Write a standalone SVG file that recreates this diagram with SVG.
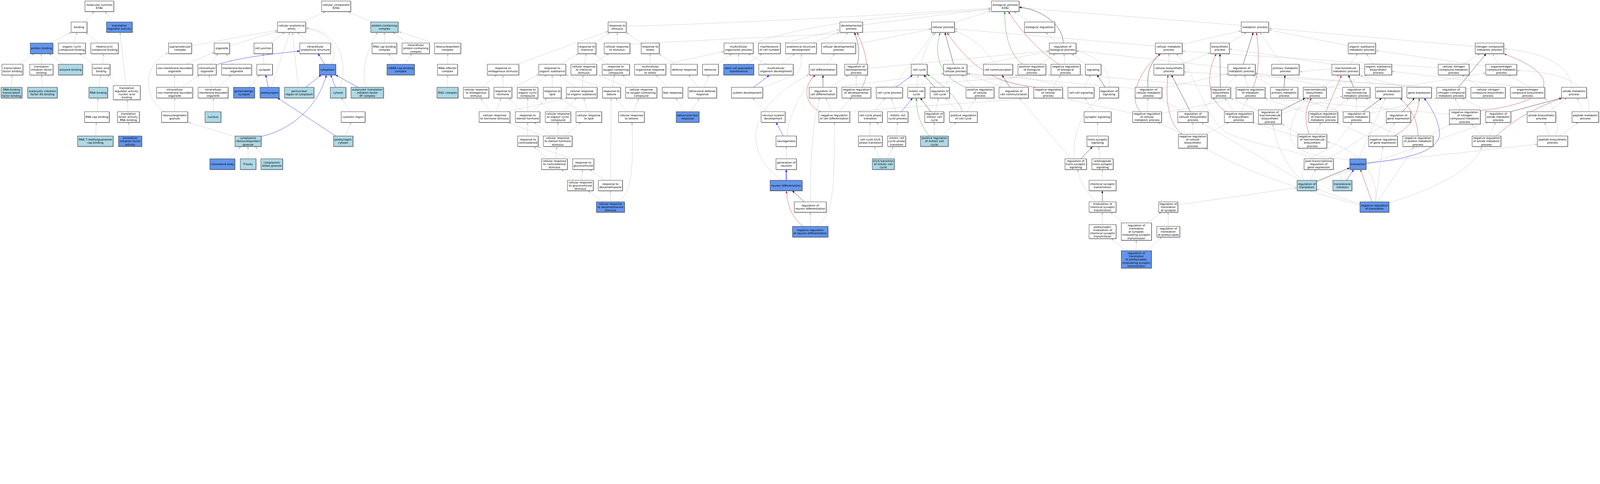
<svg xmlns="http://www.w3.org/2000/svg" width="7359" height="1240" viewBox="0 0 7359 1240" preserveAspectRatio="xMinYMin meet">
<defs>
<filter id="sh" x="-5%" y="-5%" width="115%" height="130%"><feDropShadow dx="1.5" dy="1.5" stdDeviation="0.4" flood-color="#666" flood-opacity="0.7"/></filter>
<marker id="ag" viewBox="0 0 10 8" refX="10" refY="4" markerWidth="11" markerHeight="8.5" markerUnits="userSpaceOnUse" orient="auto"><path d="M0,0L10,4L0,8z" fill="#BEBEBE"/></marker>
<marker id="ak" viewBox="0 0 10 8" refX="10" refY="4" markerWidth="11" markerHeight="8.5" markerUnits="userSpaceOnUse" orient="auto"><path d="M0,0L10,4L0,8z" fill="#000"/></marker>
<marker id="ab" viewBox="0 0 10 8" refX="10" refY="4" markerWidth="11" markerHeight="8.5" markerUnits="userSpaceOnUse" orient="auto"><path d="M0,0L10,4L0,8z" fill="#0000FF"/></marker>
<marker id="ar" viewBox="0 0 10 8" refX="10" refY="4" markerWidth="11" markerHeight="8.5" markerUnits="userSpaceOnUse" orient="auto"><path d="M0,0L10,4L0,8z" fill="#B22222"/></marker>
<marker id="an" viewBox="0 0 10 8" refX="10" refY="4" markerWidth="11" markerHeight="8.5" markerUnits="userSpaceOnUse" orient="auto"><path d="M0,0L10,4L0,8z" fill="#228B22"/></marker>
</defs>
<style>
svg:root{width:100%;height:100%}
text{font-family:"DejaVu Sans","Liberation Sans",sans-serif;font-size:12.7px;text-anchor:middle;fill:#000}
rect{stroke:#000;stroke-width:1.3;filter:url(#sh)}
.w{fill:#fff}.lb{fill:#ADD8E6}.cb{fill:#6495ED}
.g,.k,.b,.r,.n{fill:none;stroke-width:1.2}
.g{stroke:#BEBEBE;marker-end:url(#ag)}
.k{stroke:#000;marker-end:url(#ak)}
.b{stroke:#0000FF;marker-end:url(#ab)}
.r{stroke:#B22222;marker-end:url(#ar)}
.n{stroke:#228B22;marker-end:url(#an)}
.tk{stroke-width:2.4}
</style>
<g id="edges">
<path class="g" d="M387,101L433,54"/><path class="g" d="M526,101L482,54"/><path class="g" d="M233,198L327,149"/><path class="g" d="M340,198L354,149"/><path class="g" d="M452,198L395,149"/><path class="g" d="M91,296L157,247"/><path class="g" d="M190,296L190,247"/><path class="g" d="M291,296L225,247"/><path class="g" d="M431,296L365,247"/><path class="g" d="M471,296L477,247"/><path class="g" d="M54,402L55,345"/><path class="g" d="M194,402L191,345"/><path class="g" d="M456,402L463,345"/><path class="g" d="M546,394L493,345"/><path class="g" d="M579,394L552,149"/><path class="g" d="M447,514L451,451"/><path class="g" d="M589,514L585,459"/><path class="g" d="M440,626L443,563"/><path class="g" d="M595,626L592,563"/>
<path class="g" d="M1394,101L1497,54"/><path class="g" d="M1712,101L1600,54"/><path class="g" d="M881,210C1000,190 1150,160 1276,140"/><path class="g" d="M1056,210C1120,195 1200,165 1276,146"/><path class="g" d="M1244,198L1309,149"/><path class="g" d="M1424,198L1368,149"/><path class="g" d="M1248,402L1333,149"/><path class="g" d="M1372,402L1345,149"/><path class="g" d="M1521,296C1555,260 1540,150 1408,131"/><path class="g" d="M1563,402C1600,300 1570,145 1408,128"/><path class="g" d="M854,296L985,241"/><path class="g" d="M969,296L1003,247"/><path class="g" d="M1072,296L1040,247"/><path class="g" d="M1214,296L1210,247"/><path class="g" d="M803,402L803,345"/><path class="g" d="M838,402L917,345"/><path class="g" d="M973,402L961,345"/><path class="g" d="M1004,402L1064,345"/><path class="g" d="M1144,402L1196,345"/><path class="g" d="M803,514L803,451"/><path class="g" d="M759,514C660,460 650,300 773,243"/><path class="g" d="M981,514L981,451"/><path class="g" d="M1081,629L866,563"/><path class="g" d="M1049,731L1107,676"/><path class="g" d="M1141,731L1141,676"/><path class="g" d="M1226,731L1174,676"/><path class="g" d="M1685,402C1660,330 1680,250 1736,149"/><path class="g" d="M1588,626L1615,563"/><path class="g" d="M1609,514L1570,451"/><path class="g" d="M1768,198L1768,149"/><path class="g" d="M1823,296L1786,247"/><path class="g" d="M1860,296L1895,247"/><path class="g" d="M1875,198L1807,149"/><path class="g" d="M1998,198L1834,146"/><path class="g" d="M2059,296L2059,247"/><path class="g" d="M2059,402L2059,345"/>
<path class="b" d="M994,299Q1100,262 1378,235"/><path class="b" d="M1234,402L1222,345"/><path class="b" d="M1201,628C1330,600 1460,500 1501,346"/><path class="b" d="M1493,296L1463,247"/><path class="b" d="M1406,402L1477,345"/><path class="b" d="M1543,402L1521,345"/><path class="b" d="M1647,402L1544,345"/><path class="b" d="M1544,626L1277,451"/>
<path class="g" d="M2880,121C3300,110 4000,75 4558,37"/><path class="g" d="M2735,198L2804,150"/><path class="g" d="M2839,198L2839,149"/><path class="g" d="M2950,198L2881,150"/><path class="g" d="M2376,296L2797,144"/><path class="g" d="M2897,204C3200,185 3800,160 4284,132"/><path class="g" d="M2578,296L2659,247"/><path class="g" d="M2689,296L2695,247"/><path class="g" d="M2723,296L2800,247"/><path class="g" d="M2798,296L2733,247"/><path class="g" d="M2990,296L2990,247"/><path class="g" d="M3055,296L3330,237"/><path class="g" d="M3109,296L3031,249"/><path class="g" d="M2219,402L2285,345"/><path class="g" d="M2313,402L2313,345"/><path class="g" d="M2354,406L2478,343"/><path class="g" d="M2452,402L2515,345"/><path class="g" d="M2540,402L2540,345"/><path class="g" d="M2646,402L2572,345"/><path class="g" d="M2679,402L2682,345"/><path class="g" d="M2818,402L2826,345"/><path class="g" d="M2770,403L2602,344"/><path class="g" d="M2922,402L2863,345"/><path class="g" d="M2887,402L2752,345"/><path class="g" d="M3070,402L3017,346"/><path class="g" d="M3148,514L3109,452"/><path class="g" d="M3177,514L3216,452"/><path class="g" d="M3212,402L3167,345"/><path class="g" d="M3239,402L3260,345"/><path class="g" d="M3299,296L3366,248"/><path class="g" d="M3397,296L3397,248"/><path class="g" d="M3432,296L3505,248"/><path class="g" d="M3528,296L3441,248"/><path class="g" d="M3598,296L3655,248"/><path class="g" d="M3463,198C3650,140 3850,85 4558,44"/><path class="g" d="M3588,202L3861,137"/><path class="g" d="M3740,198L3861,148"/><path class="g" d="M3870,198L3900,149"/><path class="g" d="M3935,204L4284,134"/><path class="g" d="M3803,296L3839,247"/><path class="g" d="M3505,402L3655,346C3680,330 3686,300 3686,248"/><path class="g" d="M3530,514L3461,452"/><path class="g" d="M3616,731L3616,674"/><path class="g" d="M3596,830C3420,700 3420,500 3720,344"/><path class="g" d="M3619,626C3625,540 3680,430 3745,346"/>
<path class="g" d="M2257,514L2210,452"/><path class="g" d="M2283,514L2304,452"/><path class="g" d="M2334,514L2610,451"/><path class="g" d="M2401,514L2340,452"/><path class="g" d="M2427,514L2427,451"/><path class="g" d="M2452,514L2515,452"/><path class="g" d="M2427,626L2427,563"/><path class="g" d="M2535,514L2464,452"/><path class="g" d="M2590,514L2652,452"/><path class="g" d="M2673,514L2576,452"/><path class="g" d="M2701,514L2685,452"/><path class="g" d="M2885,514L2831,452"/><path class="g" d="M2914,514L2938,452"/><path class="g" d="M2535,626L2456,563"/><path class="g" d="M2566,626L2566,563"/><path class="g" d="M2598,626L2673,563"/><path class="g" d="M2499,626L2340,564"/><path class="g" d="M2521,731L2456,676"/><path class="g" d="M2555,731L2561,676"/><path class="g" d="M2634,734L2476,676"/><path class="g" d="M2640,830L2582,780"/><path class="g" d="M2673,830L2679,780"/><path class="g" d="M2778,830L2713,780"/><path class="g" d="M2808,830L2811,451"/><path class="g" d="M2774,929L2705,879"/><path class="g" d="M2808,929L2808,877"/><path class="g" d="M2837,929C2900,900 2915,800 2907,564"/>
<path class="g" d="M3967,115L4557,40"/><path class="g" d="M4391,103L4557,51"/><path class="g" d="M4739,101L4664,54"/><path class="g" d="M5709,117L4688,36"/><path class="g" d="M4862,198L4810,150"/><path class="g" d="M4237,296C4250,240 4270,190 4304,150"/><path class="g" d="M4447,308L4826,237"/><path class="g" d="M4577,296C4530,220 4470,170 4391,142"/><path class="g" d="M4783,296L4854,248"/><path class="g" d="M4898,296L4894,248"/><path class="g" d="M3990,315L4826,233"/><path class="g" d="M3837,402L4340,338"/><path class="g" d="M3819,402L3902,347"/><path class="g" d="M3938,402L3938,347"/><path class="g" d="M4005,403L4834,345"/><path class="g" d="M4107,402C4170,320 4240,220 4296,151"/><path class="g" d="M4217,402L4223,345"/><path class="g" d="M4340,402L4375,345"/><path class="g" d="M4478,402L4423,345"/><path class="g" d="M4565,403L4684,345"/><path class="g" d="M4609,402L4450,340"/><path class="g" d="M4755,400L4447,337"/><path class="g" d="M4842,402L4878,347"/><path class="g" d="M3826,514L3798,451"/><path class="g" d="M3859,514L3917,451"/><path class="g" d="M3901,514L4763,451"/><path class="g" d="M4022,514L4071,451"/><path class="g" d="M4120,514L4099,451"/><path class="g" d="M4303,514L4316,451"/><path class="g" d="M4407,514L4348,451"/><path class="g" d="M4447,514L4490,451"/><path class="g" d="M4002,626L4002,563"/><path class="g" d="M4096,626L4031,563"/><path class="g" d="M4125,626L4128,563"/><path class="g" d="M4297,626L4297,563"/><path class="g" d="M4328,626L4399,563"/><path class="g" d="M4047,731L4020,676"/><path class="g" d="M4079,731L4108,676"/><path class="g" d="M3727,929C3727,700 3740,560 3770,451"/><path class="g" d="M3727,1042L3727,977"/><path class="g" d="M3759,1042C3830,980 3838,900 3838,563"/>
<path class="g" d="M5437,204L5708,142"/><path class="g" d="M5314,212L4391,133"/><path class="g" d="M5653,198L5732,150"/><path class="g" d="M5648,312L4949,233"/><path class="g" d="M5896,296L5795,150"/><path class="g" d="M5376,296L5376,247"/><path class="g" d="M5431,296L5566,243"/><path class="g" d="M4993,296L4929,248"/><path class="g" d="M4985,402L5016,345"/><path class="g" d="M4915,402L4665,345"/><path class="g" d="M5103,402C5110,320 5050,260 4950,234"/><path class="g" d="M5344,407L5648,340"/><path class="g" d="M5222,408L4450,338"/><path class="g" d="M5637,402L5688,345"/><path class="g" d="M5740,402L5724,345"/><path class="g" d="M5686,407L4969,345"/><path class="g" d="M5858,402L5760,345"/><path class="g" d="M6080,402L6160,345"/><path class="g" d="M6100,408L6290,345"/><path class="g" d="M5032,514L4989,451"/><path class="g" d="M5277,514L5280,451"/><path class="g" d="M5342,522L5692,451"/><path class="g" d="M5210,522L4884,452"/><path class="g" d="M5439,514L5329,451"/><path class="g" d="M5515,514L5588,451"/><path class="g" d="M5677,514L5633,451"/><path class="g" d="M5708,514L5740,451"/><path class="g" d="M5787,510L5661,452"/><path class="g" d="M5894,522L6175,443"/><path class="g" d="M6019,522L5815,452"/><path class="g" d="M6120,514L6205,452"/><path class="g" d="M6180,516L5968,453"/><path class="g" d="M5048,626L5048,563"/><path class="g" d="M5487,618L5487,563"/><path class="g" d="M5546,618L5653,563"/><path class="g" d="M5439,618L5325,563"/><path class="g" d="M5981,619L5896,571"/><path class="g" d="M5969,630L5760,563"/><path class="g" d="M6051,619L6075,564"/><path class="g" d="M4925,731L4688,451"/><path class="g" d="M4941,731C4930,620 4980,500 5060,452"/><path class="g" d="M5060,731L5053,676"/><path class="g" d="M5070,830L5070,780"/><path class="g" d="M5040,929C5000,890 4965,830 4957,781"/><path class="g" d="M6110,731L6385,563"/><path class="g" d="M6025,830L6052,780"/><path class="g" d="M5985,830C5920,760 5870,680 5855,572"/><path class="g" d="M5965,822L5526,565"/><path class="g" d="M5996,831C5960,740 6080,700 6120,680C6160,650 6190,600 6219,565"/><path class="g" d="M6055,838L6845,563"/><path class="g" d="M5417,943L5966,864"/><path class="g" d="M5070,1034L5070,977"/><path class="g" d="M5170,1026L5107,977"/><path class="g" d="M5277,1026L5341,977"/><path class="g" d="M5373,1042L5373,977"/><path class="g" d="M5178,1154L5111,1098"/><path class="g" d="M5226,1154L5226,1106"/><path class="g" d="M5273,1154L5344,1091"/><path class="g" d="M6255,945C6100,900 5800,830 5545,683"/><path class="g" d="M6255,940L6056,870"/><path class="g" d="M6327,930C6340,800 6250,690 6104,653"/><path class="g" d="M6172,831C6150,700 5800,690 5640,610C5540,540 5500,330 5410,248"/><path class="g" d="M6210,736C6050,720 5900,700 5940,580C5955,510 5990,470 6021,452"/><path class="g" d="M6249,731L6372,451"/><path class="g" d="M6283,751L7072,664"/>
<path class="g" d="M6201,210L5837,138"/><path class="g" d="M6785,214L5837,130"/><path class="g" d="M6210,296L6244,248"/><path class="g" d="M6126,316L5977,330"/><path class="g" d="M6317,296L6285,248"/><path class="g" d="M6277,318L5655,226"/><path class="g" d="M6728,296L6807,248"/><path class="g" d="M6615,312L5438,235"/><path class="g" d="M6890,296L6866,248"/><path class="g" d="M6834,304L6329,233"/><path class="g" d="M6175,411L5773,336"/><path class="g" d="M6333,402L6257,345"/><path class="g" d="M6439,402L6834,336"/><path class="g" d="M6471,403L6245,345"/><path class="g" d="M6608,407L5773,340"/><path class="g" d="M6807,402L6724,345"/><path class="g" d="M6765,410L5446,331"/><path class="g" d="M7037,402L6937,345"/><path class="g" d="M7005,402L6401,328"/><path class="g" d="M7230,402C7220,300 7100,240 6918,225"/><path class="g" d="M6238,514L6238,451"/><path class="g" d="M6299,522L6609,451"/><path class="g" d="M6392,514L6281,451"/><path class="g" d="M6720,506L6692,451"/><path class="g" d="M6666,526L5818,452"/><path class="g" d="M6843,514L6724,451"/><path class="g" d="M7123,514L7206,451"/><path class="g" d="M7281,514L7254,451"/><path class="g" d="M7305,514C7330,400 7200,330 6977,325"/><path class="g" d="M6376,626L6415,563"/><path class="g" d="M6301,633L6147,563"/><path class="g" d="M6459,633L6301,563"/><path class="g" d="M6570,626L6673,571"/><path class="g" d="M6850,626L6878,563"/><path class="g" d="M6815,626L6767,571"/><path class="g" d="M7127,626L7104,563"/><path class="g" d="M7175,626L7258,563"/><path class="g" d="M7155,626C7180,560 7150,490 7104,452"/><path class="g" d="M6326,929L6360,674"/><path class="g" d="M6336,929L6503,676"/><path class="g" d="M6388,933C6600,870 6780,780 6815,676"/>
<path class="k" d="M4890,198C4890,120 4800,45 4688,33"/><path class="k" d="M3944,296C3955,240 3950,200 3930,150"/><path class="k" d="M4386,296L4346,150"/><path class="k" d="M3785,402L3785,346"/><path class="k" d="M4300,402L4249,345"/><path class="k" d="M4281,514L4233,451"/><path class="k" d="M4646,402L4609,346"/><path class="k" d="M3699,929L3644,878"/><path class="k" d="M5083,402L5046,345"/><path class="k" d="M4971,731L5024,676"/><path class="k" d="M5070,929L5070,878"/><path class="k" d="M5718,296L5764,150"/><path class="k" d="M5280,402C5275,330 5290,290 5337,248"/><path class="k" d="M5475,514L5388,345"/><path class="k" d="M5613,402L5611,248"/><path class="k" d="M5906,402L5910,346"/><path class="k" d="M5894,508L6003,452"/><path class="k" d="M6055,835L6207,773"/><path class="k" d="M6226,402L6202,346"/><path class="k" d="M6270,514L6355,452"/><path class="k" d="M6451,514L6506,451"/><path class="k" d="M6708,402L6835,248"/><path class="k" d="M6949,514L7182,451"/>
<path class="r" d="M4870,296C4780,235 4700,150 4638,54"/><path class="r" d="M3965,402C4005,327 3985,243 3942,150"/><path class="r" d="M4763,402C4600,385 4480,330 4356,151"/><path class="r" d="M3774,514C3700,480 3690,400 3750,346"/><path class="r" d="M3695,1042C3640,1000 3620,940 3617,879"/><path class="r" d="M5764,402C5795,330 5790,230 5779,150"/><path class="r" d="M5246,514C5190,460 5230,330 5337,248"/><path class="r" d="M5641,514C5560,470 5540,350 5594,248"/><path class="r" d="M5439,618C5370,570 5360,450 5372,346"/><path class="r" d="M6022,619C6000,560 6000,500 6032,452"/><path class="r" d="M6098,514L6170,347"/><path class="r" d="M6412,626C6480,590 6520,540 6528,452"/><path class="r" d="M6522,626C6520,540 6480,490 6440,452"/><path class="r" d="M6808,510C7150,470 7200,350 6918,248"/><path class="r" d="M6882,626C6950,560 7050,500 7183,452"/><path class="r" d="M6311,930L6257,780"/>
<path class="n" d="M4704,296C4640,250 4620,150 4621,54"/><path class="n" d="M4443,402C4330,360 4290,260 4324,151"/><path class="n" d="M4427,514C4410,460 4350,400 4265,342"/><path class="n" d="M4275,626C4235,580 4215,520 4215,452"/>
<path class="b" d="M4120,402L4197,346"/><path class="b" d="M4146,514L4197,452"/><path class="b" d="M3465,402L3538,347"/><path class="b" d="M3603,626L3570,564"/><path class="b tk" d="M3616,830L3616,781"/><path class="b" d="M6283,751C6450,735 6640,700 6620,600C6610,540 6580,490 6550,452"/><path class="b" d="M6192,831L6226,781"/>
</g>
<g id="mf"><rect class="w" x="391" y="5" width="132" height="48"/><text x="457" y="26.1">molecular_function<tspan x="457" dy="14.8">Eif4e</tspan></text></g>
<g id="binding"><rect class="w" x="327" y="101" width="73" height="48"/><text x="363.5" y="129.5">binding</text></g>
<g id="tra"><rect class="cb" x="490" y="101" width="118" height="48"/><text x="549" y="122.1">translation<tspan x="549" dy="14.8">regulator activity</tspan></text></g>
<g id="pb"><rect class="cb" x="139" y="198" width="104" height="49"/><text x="191" y="227">protein binding</text></g>
<g id="ocb"><rect class="w" x="268" y="198" width="125" height="49"/><text x="330.5" y="219.6">organic cyclic<tspan x="330.5" dy="14.8">compound binding</tspan></text></g>
<g id="hcb"><rect class="w" x="418" y="198" width="126" height="49"/><text x="481" y="219.6">heterocyclic<tspan x="481" dy="14.8">compound binding</tspan></text></g>
<g id="tfb"><rect class="w" x="9" y="296" width="96" height="49"/><text x="57" y="317.6">transcription<tspan x="57" dy="14.8">factor binding</tspan></text></g>
<g id="tifb"><rect class="w" x="137" y="296" width="107" height="49"/><text x="190.5" y="310.2">translation<tspan x="190.5" dy="14.8">initiation factor</tspan><tspan x="190.5" dy="14.8">binding</tspan></text></g>
<g id="eb"><rect class="lb" x="269" y="296" width="111" height="49"/><text x="324.5" y="325">enzyme binding</text></g>
<g id="nab"><rect class="w" x="424" y="296" width="82" height="49"/><text x="465" y="317.6">nucleic acid<tspan x="465" dy="14.8">binding</tspan></text></g>
<g id="dtfb"><rect class="lb" x="5" y="402" width="96" height="49"/><text x="53" y="416.2">DNA-binding<tspan x="53" dy="14.8">transcription</tspan><tspan x="53" dy="14.8">factor binding</tspan></text></g>
<g id="eif4g"><rect class="lb" x="127" y="402" width="136" height="49"/><text x="195" y="423.6">eukaryotic initiation<tspan x="195" dy="14.8">factor 4G binding</tspan></text></g>
<g id="rnab"><rect class="lb" x="409" y="402" width="86" height="49"/><text x="452" y="431">RNA binding</text></g>
<g id="tranab"><rect class="w" x="521" y="394" width="124" height="65"/><text x="583" y="408.8">translation<tspan x="583" dy="14.8">regulator activity,</tspan><tspan x="583" dy="14.8">nucleic acid</tspan><tspan x="583" dy="14.8">binding</tspan></text></g>
<g id="rcb"><rect class="w" x="389" y="514" width="113" height="49"/><text x="445.5" y="543">RNA cap binding</text></g>
<g id="tfarb"><rect class="w" x="540" y="514" width="101" height="49"/><text x="590.5" y="528.2">translation<tspan x="590.5" dy="14.8">factor activity,</tspan><tspan x="590.5" dy="14.8">RNA binding</tspan></text></g>
<g id="r7m"><rect class="lb" x="357" y="626" width="163" height="48"/><text x="438.5" y="647.1">RNA 7-methylguanosine<tspan x="438.5" dy="14.8">cap binding</tspan></text></g>
<g id="tifa"><rect class="cb" x="545" y="626" width="107" height="48"/><text x="598.5" y="639.7">translation<tspan x="598.5" dy="14.8">initiation factor</tspan><tspan x="598.5" dy="14.8">activity</tspan></text></g>
<g id="cc"><rect class="w" x="1479" y="5" width="134" height="48"/><text x="1546" y="26.1">cellular_component<tspan x="1546" dy="14.8">Eif4e</tspan></text></g>
<g id="cae"><rect class="w" x="1276" y="101" width="130" height="48"/><text x="1341" y="122.1">cellular anatomical<tspan x="1341" dy="14.8">entity</tspan></text></g>
<g id="pcc"><rect class="lb" x="1705" y="101" width="126" height="48"/><text x="1768" y="122.1">protein-containing<tspan x="1768" dy="14.8">complex</tspan></text></g>
<g id="smc"><rect class="w" x="775" y="198" width="106" height="49"/><text x="828" y="219.6">supramolecular<tspan x="828" dy="14.8">complex</tspan></text></g>
<g id="org"><rect class="w" x="985" y="198" width="71" height="49"/><text x="1020.5" y="227">organelle</text></g>
<g id="cj"><rect class="w" x="1168" y="198" width="85" height="49"/><text x="1210.5" y="227">cell junction</text></g>
<g id="ias"><rect class="w" x="1379" y="198" width="141" height="49"/><text x="1449.5" y="219.6">intracellular<tspan x="1449.5" dy="14.8">anatomical structure</tspan></text></g>
<g id="rcbc"><rect class="w" x="1711" y="198" width="114" height="49"/><text x="1768" y="219.6">RNA cap binding<tspan x="1768" dy="14.8">complex</tspan></text></g>
<g id="ipcc"><rect class="w" x="1849" y="198" width="126" height="49"/><text x="1912" y="212.2">intracellular<tspan x="1912" dy="14.8">protein-containing</tspan><tspan x="1912" dy="14.8">complex</tspan></text></g>
<g id="rnpc"><rect class="w" x="1998" y="198" width="121" height="49"/><text x="2058.5" y="219.6">ribonucleoprotein<tspan x="2058.5" dy="14.8">complex</tspan></text></g>
<g id="nmbo"><rect class="w" x="720" y="296" width="166" height="49"/><text x="803" y="317.6">non-membrane-bounded<tspan x="803" dy="14.8">organelle</tspan></text></g>
<g id="io"><rect class="w" x="910" y="296" width="84" height="49"/><text x="952" y="317.6">intracellular<tspan x="952" dy="14.8">organelle</tspan></text></g>
<g id="mbo"><rect class="w" x="1019" y="296" width="138" height="49"/><text x="1088" y="317.6">membrane-bounded<tspan x="1088" dy="14.8">organelle</tspan></text></g>
<g id="syn"><rect class="w" x="1181" y="296" width="72" height="49"/><text x="1217" y="325">synapse</text></g>
<g id="cyto"><rect class="cb" x="1469" y="296" width="75" height="49"/><text x="1506.5" y="325">cytoplasm</text></g>
<g id="mcbc"><rect class="cb" x="1780" y="296" width="126" height="49"/><text x="1843" y="317.6">mRNA cap binding<tspan x="1843" dy="14.8">complex</tspan></text></g>
<g id="rnai"><rect class="w" x="2012" y="296" width="92" height="49"/><text x="2058" y="317.6">RNAi effector<tspan x="2058" dy="14.8">complex</tspan></text></g>
<g id="inmbo"><rect class="w" x="720" y="402" width="166" height="49"/><text x="803" y="416.2">intracellular<tspan x="803" dy="14.8">non-membrane-bounded</tspan><tspan x="803" dy="14.8">organelle</tspan></text></g>
<g id="imbo"><rect class="w" x="911" y="402" width="138" height="49"/><text x="980" y="416.2">intracellular<tspan x="980" dy="14.8">membrane-bounded</tspan><tspan x="980" dy="14.8">organelle</tspan></text></g>
<g id="gs"><rect class="cb" x="1074" y="402" width="97" height="49"/><text x="1122.5" y="423.6">glutamatergic<tspan x="1122.5" dy="14.8">synapse</tspan></text></g>
<g id="ps"><rect class="cb" x="1196" y="402" width="88" height="49"/><text x="1240" y="431">postsynapse</text></g>
<g id="prc"><rect class="lb" x="1308" y="402" width="136" height="49"/><text x="1376" y="423.6">perinuclear<tspan x="1376" dy="14.8">region of cytoplasm</tspan></text></g>
<g id="cytosol"><rect class="lb" x="1519" y="402" width="72" height="49"/><text x="1555" y="431">cytosol</text></g>
<g id="eif4f"><rect class="lb" x="1614" y="402" width="150" height="49"/><text x="1689" y="416.2">eukaryotic translation<tspan x="1689" dy="14.8">initiation factor</tspan><tspan x="1689" dy="14.8">4F complex</tspan></text></g>
<g id="risc"><rect class="lb" x="2010" y="402" width="97" height="49"/><text x="2058.5" y="431">RISC complex</text></g>
<g id="rnpg"><rect class="w" x="743" y="514" width="120" height="49"/><text x="803" y="535.6">ribonucleoprotein<tspan x="803" dy="14.8">granule</tspan></text></g>
<g id="nuc"><rect class="lb" x="943" y="514" width="73" height="49"/><text x="979.5" y="543">nucleus</text></g>
<g id="cr"><rect class="w" x="1569" y="514" width="110" height="49"/><text x="1624" y="543">cytosolic region</text></g>
<g id="crnpg"><rect class="lb" x="1081" y="626" width="120" height="48"/><text x="1141" y="639.7">cytoplasmic<tspan x="1141" dy="14.8">ribonucleoprotein</tspan><tspan x="1141" dy="14.8">granule</tspan></text></g>
<g id="psc"><rect class="lb" x="1534" y="626" width="89" height="48"/><text x="1578.5" y="647.1">postsynaptic<tspan x="1578.5" dy="14.8">cytosol</tspan></text></g>
<g id="cbody"><rect class="cb" x="965" y="731" width="115" height="49"/><text x="1022.5" y="760">chromatoid body</text></g>
<g id="pbody"><rect class="lb" x="1105" y="731" width="72" height="49"/><text x="1141" y="760">P-body</text></g>
<g id="csg"><rect class="lb" x="1200" y="731" width="100" height="49"/><text x="1250" y="752.6">cytoplasmic<tspan x="1250" dy="14.8">stress granule</tspan></text></g>
<g id="bp"><rect class="w" x="4560" y="5" width="127" height="48"/><text x="4623.5" y="26.1">biological_process<tspan x="4623.5" dy="14.8">Eif4e</tspan></text></g>
<g id="rts"><rect class="w" x="2797" y="101" width="83" height="48"/><text x="2838.5" y="122.1">response to<tspan x="2838.5" dy="14.8">stimulus</tspan></text></g>
<g id="dp"><rect class="w" x="3863" y="101" width="104" height="48"/><text x="3915" y="122.1">developmental<tspan x="3915" dy="14.8">process</tspan></text></g>
<g id="cp"><rect class="w" x="4284" y="101" width="106" height="48"/><text x="4337" y="129.5">cellular process</text></g>
<g id="br"><rect class="w" x="4712" y="101" width="139" height="48"/><text x="4781.5" y="129.5">biological regulation</text></g>
<g id="mp"><rect class="w" x="5709" y="101" width="126" height="48"/><text x="5772" y="129.5">metabolic process</text></g>
<g id="rtc"><rect class="w" x="2658" y="198" width="83" height="49"/><text x="2699.5" y="219.6">response to<tspan x="2699.5" dy="14.8">chemical</tspan></text></g>
<g id="crts"><rect class="w" x="2779" y="198" width="118" height="49"/><text x="2838" y="219.6">cellular response<tspan x="2838" dy="14.8">to stimulus</tspan></text></g>
<g id="rtst"><rect class="w" x="2949" y="198" width="83" height="49"/><text x="2990.5" y="219.6">response to<tspan x="2990.5" dy="14.8">stress</tspan></text></g>
<g id="mop"><rect class="w" x="3330" y="198" width="134" height="49"/><text x="3397" y="219.6">multicellular<tspan x="3397" dy="14.8">organismal process</tspan></text></g>
<g id="mocn"><rect class="w" x="3488" y="198" width="101" height="49"/><text x="3538.5" y="219.6">maintenance<tspan x="3538.5" dy="14.8">of cell number</tspan></text></g>
<g id="asd"><rect class="w" x="3613" y="198" width="142" height="49"/><text x="3684" y="219.6">anatomical structure<tspan x="3684" dy="14.8">development</tspan></text></g>
<g id="cdp"><rect class="w" x="3779" y="198" width="156" height="49"/><text x="3857" y="219.6">cellular developmental<tspan x="3857" dy="14.8">process</tspan></text></g>
<g id="rbp"><rect class="w" x="4826" y="198" width="123" height="49"/><text x="4887.5" y="219.6">regulation of<tspan x="4887.5" dy="14.8">biological process</tspan></text></g>
<g id="cmp"><rect class="w" x="5314" y="198" width="123" height="49"/><text x="5375.5" y="219.6">cellular metabolic<tspan x="5375.5" dy="14.8">process</tspan></text></g>
<g id="bsp"><rect class="w" x="5567" y="198" width="87" height="49"/><text x="5610.5" y="219.6">biosynthetic<tspan x="5610.5" dy="14.8">process</tspan></text></g>
<g id="osmp"><rect class="w" x="6201" y="198" width="126" height="49"/><text x="6264" y="219.6">organic substance<tspan x="6264" dy="14.8">metabolic process</tspan></text></g>
<g id="ncmp"><rect class="w" x="6785" y="198" width="131" height="49"/><text x="6850.5" y="219.6">nitrogen compound<tspan x="6850.5" dy="14.8">metabolic process</tspan></text></g>
<g id="rtes"><rect class="w" x="2241" y="296" width="145" height="49"/><text x="2313.5" y="317.6">response to<tspan x="2313.5" dy="14.8">endogenous stimulus</tspan></text></g>
<g id="rtos"><rect class="w" x="2478" y="296" width="124" height="49"/><text x="2540" y="317.6">response to<tspan x="2540" dy="14.8">organic substance</tspan></text></g>
<g id="crtcs"><rect class="w" x="2626" y="296" width="118" height="49"/><text x="2685" y="310.2">cellular response<tspan x="2685" dy="14.8">to chemical</tspan><tspan x="2685" dy="14.8">stimulus</tspan></text></g>
<g id="rtocc"><rect class="w" x="2769" y="296" width="126" height="49"/><text x="2832" y="310.2">response to<tspan x="2832" dy="14.8">oxygen-containing</tspan><tspan x="2832" dy="14.8">compound</tspan></text></g>
<g id="morts"><rect class="w" x="2919" y="296" width="143" height="49"/><text x="2990.5" y="310.2">multicellular<tspan x="2990.5" dy="14.8">organismal response</tspan><tspan x="2990.5" dy="14.8">to stress</tspan></text></g>
<g id="dr"><rect class="w" x="3086" y="296" width="121" height="49"/><text x="3146.5" y="325">defense response</text></g>
<g id="beh"><rect class="w" x="3231" y="296" width="73" height="49"/><text x="3267.5" y="325">behavior</text></g>
<g id="scpm"><rect class="cb" x="3328" y="296" width="139" height="49"/><text x="3397.5" y="317.6">stem cell population<tspan x="3397.5" dy="14.8">maintenance</tspan></text></g>
<g id="mod"><rect class="w" x="3490" y="296" width="158" height="49"/><text x="3569" y="317.6">multicellular<tspan x="3569" dy="14.8">organism development</tspan></text></g>
<g id="cd"><rect class="w" x="3722" y="296" width="126" height="49"/><text x="3785" y="325">cell differentiation</text></g>
<g id="rdp"><rect class="w" x="3885" y="296" width="105" height="49"/><text x="3937.5" y="310.2">regulation of<tspan x="3937.5" dy="14.8">developmental</tspan><tspan x="3937.5" dy="14.8">process</tspan></text></g>
<g id="ccy"><rect class="w" x="4191" y="296" width="73" height="49"/><text x="4227.5" y="325">cell cycle</text></g>
<g id="rcp"><rect class="w" x="4340" y="296" width="107" height="49"/><text x="4393.5" y="317.6">regulation of<tspan x="4393.5" dy="14.8">cellular process</tspan></text></g>
<g id="ccom"><rect class="w" x="4523" y="296" width="135" height="49"/><text x="4590.5" y="325">cell communication</text></g>
<g id="prbp"><rect class="w" x="4682" y="296" width="128" height="49"/><text x="4746" y="310.2">positive regulation<tspan x="4746" dy="14.8">of biological</tspan><tspan x="4746" dy="14.8">process</tspan></text></g>
<g id="nrbp"><rect class="w" x="4834" y="296" width="134" height="49"/><text x="4901" y="310.2">negative regulation<tspan x="4901" dy="14.8">of biological</tspan><tspan x="4901" dy="14.8">process</tspan></text></g>
<g id="sig"><rect class="w" x="4992" y="296" width="72" height="49"/><text x="5028" y="325">signaling</text></g>
<g id="cbp"><rect class="w" x="5307" y="296" width="138" height="49"/><text x="5376" y="317.6">cellular biosynthetic<tspan x="5376" dy="14.8">process</tspan></text></g>
<g id="rmp"><rect class="w" x="5648" y="296" width="125" height="49"/><text x="5710.5" y="317.6">regulation of<tspan x="5710.5" dy="14.8">metabolic process</tspan></text></g>
<g id="pmp"><rect class="w" x="5849" y="296" width="126" height="49"/><text x="5912" y="317.6">primary metabolic<tspan x="5912" dy="14.8">process</tspan></text></g>
<g id="mmp"><rect class="w" x="6126" y="296" width="126" height="49"/><text x="6189" y="317.6">macromolecule<tspan x="6189" dy="14.8">metabolic process</tspan></text></g>
<g id="osbp"><rect class="w" x="6277" y="296" width="124" height="49"/><text x="6339" y="310.2">organic substance<tspan x="6339" dy="14.8">biosynthetic</tspan><tspan x="6339" dy="14.8">process</tspan></text></g>
<g id="cncmp"><rect class="w" x="6615" y="296" width="142" height="49"/><text x="6686" y="310.2">cellular nitrogen<tspan x="6686" dy="14.8">compound metabolic</tspan><tspan x="6686" dy="14.8">process</tspan></text></g>
<g id="oncmp"><rect class="w" x="6834" y="296" width="142" height="49"/><text x="6905" y="310.2">organonitrogen<tspan x="6905" dy="14.8">compound metabolic</tspan><tspan x="6905" dy="14.8">process</tspan></text></g>
<g id="cres"><rect class="w" x="2131" y="402" width="117" height="49"/><text x="2189.5" y="416.2">cellular response<tspan x="2189.5" dy="14.8">to endogenous</tspan><tspan x="2189.5" dy="14.8">stimulus</tspan></text></g>
<g id="rth"><rect class="w" x="2272" y="402" width="82" height="49"/><text x="2313" y="423.6">response to<tspan x="2313" dy="14.8">hormone</tspan></text></g>
<g id="rtocyc"><rect class="w" x="2379" y="402" width="95" height="49"/><text x="2426.5" y="416.2">response to<tspan x="2426.5" dy="14.8">organic cyclic</tspan><tspan x="2426.5" dy="14.8">compound</tspan></text></g>
<g id="rtl"><rect class="w" x="2499" y="402" width="82" height="49"/><text x="2540" y="423.6">response to<tspan x="2540" dy="14.8">lipid</tspan></text></g>
<g id="crtos"><rect class="w" x="2605" y="402" width="141" height="49"/><text x="2675.5" y="423.6">cellular response<tspan x="2675.5" dy="14.8">to organic substance</tspan></text></g>
<g id="rtk"><rect class="w" x="2771" y="402" width="83" height="49"/><text x="2812.5" y="423.6">response to<tspan x="2812.5" dy="14.8">ketone</tspan></text></g>
<g id="crtocc"><rect class="w" x="2877" y="402" width="144" height="49"/><text x="2949" y="416.2">cellular response<tspan x="2949" dy="14.8">to oxygen-containing</tspan><tspan x="2949" dy="14.8">compound</tspan></text></g>
<g id="fr"><rect class="w" x="3046" y="402" width="94" height="49"/><text x="3093" y="431">fear response</text></g>
<g id="bdr"><rect class="w" x="3165" y="402" width="131" height="49"/><text x="3230.5" y="423.6">behavioral defense<tspan x="3230.5" dy="14.8">response</tspan></text></g>
<g id="sd"><rect class="w" x="3364" y="402" width="144" height="49"/><text x="3436" y="431">system development</text></g>
<g id="rcd"><rect class="w" x="3722" y="402" width="126" height="49"/><text x="3785" y="423.6">regulation of<tspan x="3785" dy="14.8">cell differentiation</tspan></text></g>
<g id="nrdp"><rect class="w" x="3872" y="402" width="133" height="49"/><text x="3938.5" y="416.2">negative regulation<tspan x="3938.5" dy="14.8">of developmental</tspan><tspan x="3938.5" dy="14.8">process</tspan></text></g>
<g id="ccp"><rect class="w" x="4030" y="402" width="121" height="49"/><text x="4090.5" y="431">cell cycle process</text></g>
<g id="mcc"><rect class="w" x="4175" y="402" width="79" height="49"/><text x="4214.5" y="423.6">mitotic cell<tspan x="4214.5" dy="14.8">cycle</tspan></text></g>
<g id="rcc"><rect class="w" x="4278" y="402" width="89" height="49"/><text x="4322.5" y="423.6">regulation of<tspan x="4322.5" dy="14.8">cell cycle</tspan></text></g>
<g id="prcp"><rect class="w" x="4443" y="402" width="129" height="49"/><text x="4507.5" y="416.2">positive regulation<tspan x="4507.5" dy="14.8">of cellular</tspan><tspan x="4507.5" dy="14.8">process</tspan></text></g>
<g id="rccom"><rect class="w" x="4595" y="402" width="135" height="49"/><text x="4662.5" y="423.6">regulation of<tspan x="4662.5" dy="14.8">cell communication</tspan></text></g>
<g id="nrcp"><rect class="w" x="4755" y="402" width="132" height="49"/><text x="4821" y="416.2">negative regulation<tspan x="4821" dy="14.8">of cellular</tspan><tspan x="4821" dy="14.8">process</tspan></text></g>
<g id="ccs"><rect class="w" x="4912" y="402" width="120" height="49"/><text x="4972" y="431">cell-cell signaling</text></g>
<g id="rsig"><rect class="w" x="5057" y="402" width="88" height="49"/><text x="5101" y="423.6">regulation of<tspan x="5101" dy="14.8">signaling</tspan></text></g>
<g id="rcmp"><rect class="w" x="5221" y="402" width="123" height="49"/><text x="5282.5" y="416.2">regulation of<tspan x="5282.5" dy="14.8">cellular metabolic</tspan><tspan x="5282.5" dy="14.8">process</tspan></text></g>
<g id="rbsp"><rect class="w" x="5571" y="402" width="89" height="49"/><text x="5615.5" y="416.2">regulation of<tspan x="5615.5" dy="14.8">biosynthetic</tspan><tspan x="5615.5" dy="14.8">process</tspan></text></g>
<g id="nrmp"><rect class="w" x="5685" y="402" width="133" height="49"/><text x="5751.5" y="416.2">negative regulation<tspan x="5751.5" dy="14.8">of metabolic</tspan><tspan x="5751.5" dy="14.8">process</tspan></text></g>
<g id="rpmp"><rect class="w" x="5843" y="402" width="126" height="49"/><text x="5906" y="416.2">regulation of<tspan x="5906" dy="14.8">primary metabolic</tspan><tspan x="5906" dy="14.8">process</tspan></text></g>
<g id="mbsp"><rect class="w" x="5994" y="402" width="106" height="49"/><text x="6047" y="416.2">macromolecule<tspan x="6047" dy="14.8">biosynthetic</tspan><tspan x="6047" dy="14.8">process</tspan></text></g>
<g id="rmmp"><rect class="w" x="6175" y="402" width="126" height="49"/><text x="6238" y="416.2">regulation of<tspan x="6238" dy="14.8">macromolecule</tspan><tspan x="6238" dy="14.8">metabolic process</tspan></text></g>
<g id="pmpr"><rect class="w" x="6326" y="402" width="121" height="49"/><text x="6386.5" y="423.6">protein metabolic<tspan x="6386.5" dy="14.8">process</tspan></text></g>
<g id="ge"><rect class="w" x="6471" y="402" width="113" height="49"/><text x="6527.5" y="431">gene expression</text></g>
<g id="rncmp"><rect class="w" x="6608" y="402" width="133" height="49"/><text x="6674.5" y="416.2">regulation of<tspan x="6674.5" dy="14.8">nitrogen compound</tspan><tspan x="6674.5" dy="14.8">metabolic process</tspan></text></g>
<g id="cncbp"><rect class="w" x="6765" y="402" width="158" height="49"/><text x="6844" y="416.2">cellular nitrogen<tspan x="6844" dy="14.8">compound biosynthetic</tspan><tspan x="6844" dy="14.8">process</tspan></text></g>
<g id="oncbp"><rect class="w" x="6947" y="402" width="158" height="49"/><text x="7026" y="416.2">organonitrogen<tspan x="7026" dy="14.8">compound biosynthetic</tspan><tspan x="7026" dy="14.8">process</tspan></text></g>
<g id="amp"><rect class="w" x="7182" y="402" width="115" height="49"/><text x="7239.5" y="423.6">amide metabolic<tspan x="7239.5" dy="14.8">process</tspan></text></g>
<g id="crhs"><rect class="w" x="2204" y="514" width="141" height="49"/><text x="2274.5" y="535.6">cellular response<tspan x="2274.5" dy="14.8">to hormone stimulus</tspan></text></g>
<g id="rtsh"><rect class="w" x="2370" y="514" width="113" height="49"/><text x="2426.5" y="535.6">response to<tspan x="2426.5" dy="14.8">steroid hormone</tspan></text></g>
<g id="crtocyc"><rect class="w" x="2508" y="514" width="117" height="49"/><text x="2566.5" y="528.2">cellular response<tspan x="2566.5" dy="14.8">to organic cyclic</tspan><tspan x="2566.5" dy="14.8">compound</tspan></text></g>
<g id="crtl"><rect class="w" x="2649" y="514" width="118" height="49"/><text x="2708" y="535.6">cellular response<tspan x="2708" dy="14.8">to lipid</tspan></text></g>
<g id="crtk"><rect class="w" x="2845" y="514" width="118" height="49"/><text x="2904" y="535.6">cellular response<tspan x="2904" dy="14.8">to ketone</tspan></text></g>
<g id="bfr"><rect class="cb" x="3110" y="514" width="105" height="49"/><text x="3162.5" y="535.6">behavioral fear<tspan x="3162.5" dy="14.8">response</tspan></text></g>
<g id="nsd"><rect class="w" x="3501" y="514" width="110" height="49"/><text x="3556" y="535.6">nervous system<tspan x="3556" dy="14.8">development</tspan></text></g>
<g id="nrcd"><rect class="w" x="3766" y="514" width="142" height="49"/><text x="3837" y="535.6">negative regulation<tspan x="3837" dy="14.8">of cell differentiation</tspan></text></g>
<g id="ccpt"><rect class="w" x="3948" y="514" width="110" height="49"/><text x="4003" y="535.6">cell cycle phase<tspan x="4003" dy="14.8">transition</tspan></text></g>
<g id="mccp"><rect class="w" x="4082" y="514" width="94" height="49"/><text x="4129" y="535.6">mitotic cell<tspan x="4129" dy="14.8">cycle process</tspan></text></g>
<g id="rmcc"><rect class="w" x="4253" y="514" width="88" height="49"/><text x="4297" y="528.2">regulation of<tspan x="4297" dy="14.8">mitotic cell</tspan><tspan x="4297" dy="14.8">cycle</tspan></text></g>
<g id="prcc"><rect class="w" x="4367" y="514" width="128" height="49"/><text x="4431" y="535.6">positive regulation<tspan x="4431" dy="14.8">of cell cycle</tspan></text></g>
<g id="ss"><rect class="w" x="4986" y="514" width="124" height="49"/><text x="5048" y="543">synaptic signaling</text></g>
<g id="nrcmp"><rect class="w" x="5209" y="514" width="133" height="49"/><text x="5275.5" y="528.2">negative regulation<tspan x="5275.5" dy="14.8">of cellular</tspan><tspan x="5275.5" dy="14.8">metabolic process</tspan></text></g>
<g id="rcbp"><rect class="w" x="5417" y="514" width="139" height="49"/><text x="5486.5" y="528.2">regulation of<tspan x="5486.5" dy="14.8">cellular biosynthetic</tspan><tspan x="5486.5" dy="14.8">process</tspan></text></g>
<g id="nrbsp"><rect class="w" x="5631" y="514" width="133" height="49"/><text x="5697.5" y="528.2">negative regulation<tspan x="5697.5" dy="14.8">of biosynthetic</tspan><tspan x="5697.5" dy="14.8">process</tspan></text></g>
<g id="rmbp"><rect class="w" x="5788" y="506" width="106" height="65"/><text x="5841" y="520.8">regulation of<tspan x="5841" dy="14.8">macromolecule</tspan><tspan x="5841" dy="14.8">biosynthetic</tspan><tspan x="5841" dy="14.8">process</tspan></text></g>
<g id="nrmmp"><rect class="w" x="6019" y="514" width="134" height="49"/><text x="6086" y="528.2">negative regulation<tspan x="6086" dy="14.8">of macromolecule</tspan><tspan x="6086" dy="14.8">metabolic process</tspan></text></g>
<g id="rpmpr"><rect class="w" x="6178" y="514" width="121" height="49"/><text x="6238.5" y="528.2">regulation of<tspan x="6238.5" dy="14.8">protein metabolic</tspan><tspan x="6238.5" dy="14.8">process</tspan></text></g>
<g id="rge"><rect class="w" x="6376" y="514" width="112" height="49"/><text x="6432" y="535.6">regulation of<tspan x="6432" dy="14.8">gene expression</tspan></text></g>
<g id="nrncmp"><rect class="w" x="6666" y="506" width="142" height="65"/><text x="6737" y="520.8">negative regulation<tspan x="6737" dy="14.8">of nitrogen</tspan><tspan x="6737" dy="14.8">compound metabolic</tspan><tspan x="6737" dy="14.8">process</tspan></text></g>
<g id="ramp"><rect class="w" x="6833" y="514" width="116" height="49"/><text x="6891" y="528.2">regulation of<tspan x="6891" dy="14.8">amide metabolic</tspan><tspan x="6891" dy="14.8">process</tspan></text></g>
<g id="abp"><rect class="w" x="7024" y="514" width="131" height="49"/><text x="7089.5" y="535.6">amide biosynthetic<tspan x="7089.5" dy="14.8">process</tspan></text></g>
<g id="pepmp"><rect class="w" x="7230" y="514" width="123" height="49"/><text x="7291.5" y="535.6">peptide metabolic<tspan x="7291.5" dy="14.8">process</tspan></text></g>
<g id="rtcort"><rect class="w" x="2381" y="626" width="94" height="48"/><text x="2428" y="647.1">response to<tspan x="2428" dy="14.8">corticosteroid</tspan></text></g>
<g id="crshs"><rect class="w" x="2499" y="626" width="132" height="48"/><text x="2565" y="639.7">cellular response<tspan x="2565" dy="14.8">to steroid hormone</tspan><tspan x="2565" dy="14.8">stimulus</tspan></text></g>
<g id="neurog"><rect class="w" x="3569" y="626" width="94" height="48"/><text x="3616" y="654.5">neurogenesis</text></g>
<g id="ccg1s"><rect class="w" x="3948" y="626" width="110" height="48"/><text x="4003" y="647.1">cell cycle G1/S<tspan x="4003" dy="14.8">phase transition</tspan></text></g>
<g id="mccpt"><rect class="w" x="4083" y="626" width="82" height="48"/><text x="4124" y="639.7">mitotic cell<tspan x="4124" dy="14.8">cycle phase</tspan><tspan x="4124" dy="14.8">transition</tspan></text></g>
<g id="prmcc"><rect class="lb" x="4234" y="626" width="127" height="48"/><text x="4297.5" y="639.7">positive regulation<tspan x="4297.5" dy="14.8">of mitotic cell</tspan><tspan x="4297.5" dy="14.8">cycle</tspan></text></g>
<g id="tss"><rect class="w" x="4999" y="626" width="98" height="48"/><text x="5048" y="647.1">trans-synaptic<tspan x="5048" dy="14.8">signaling</tspan></text></g>
<g id="nrcbp"><rect class="w" x="5420" y="618" width="132" height="64"/><text x="5486" y="632.3">negative regulation<tspan x="5486" dy="14.8">of cellular</tspan><tspan x="5486" dy="14.8">biosynthetic</tspan><tspan x="5486" dy="14.8">process</tspan></text></g>
<g id="nrmbp"><rect class="w" x="5969" y="618" width="133" height="64"/><text x="6035.5" y="632.3">negative regulation<tspan x="6035.5" dy="14.8">of macromolecule</tspan><tspan x="6035.5" dy="14.8">biosynthetic</tspan><tspan x="6035.5" dy="14.8">process</tspan></text></g>
<g id="nrge"><rect class="w" x="6295" y="626" width="132" height="48"/><text x="6361" y="647.1">negative regulation<tspan x="6361" dy="14.8">of gene expression</tspan></text></g>
<g id="nrpmp"><rect class="w" x="6452" y="626" width="139" height="48"/><text x="6521.5" y="639.7">negative regulation<tspan x="6521.5" dy="14.8">of protein metabolic</tspan><tspan x="6521.5" dy="14.8">process</tspan></text></g>
<g id="nramp"><rect class="w" x="6771" y="626" width="132" height="48"/><text x="6837" y="639.7">negative regulation<tspan x="6837" dy="14.8">of amide metabolic</tspan><tspan x="6837" dy="14.8">process</tspan></text></g>
<g id="pepbp"><rect class="w" x="7071" y="626" width="139" height="48"/><text x="7140.5" y="647.1">peptide biosynthetic<tspan x="7140.5" dy="14.8">process</tspan></text></g>
<g id="crcs"><rect class="w" x="2491" y="731" width="118" height="49"/><text x="2550" y="745.2">cellular response<tspan x="2550" dy="14.8">to corticosteroid</tspan><tspan x="2550" dy="14.8">stimulus</tspan></text></g>
<g id="rtg"><rect class="w" x="2634" y="731" width="97" height="49"/><text x="2682.5" y="752.6">response to<tspan x="2682.5" dy="14.8">glucocorticoid</tspan></text></g>
<g id="gon"><rect class="w" x="3569" y="731" width="94" height="49"/><text x="3616" y="752.6">generation of<tspan x="3616" dy="14.8">neurons</tspan></text></g>
<g id="g1s"><rect class="lb" x="4012" y="731" width="101" height="49"/><text x="4062.5" y="745.2">G1/S transition<tspan x="4062.5" dy="14.8">of mitotic cell</tspan><tspan x="4062.5" dy="14.8">cycle</tspan></text></g>
<g id="rtss"><rect class="w" x="4898" y="731" width="99" height="49"/><text x="4947.5" y="745.2">regulation of<tspan x="4947.5" dy="14.8">trans-synaptic</tspan><tspan x="4947.5" dy="14.8">signaling</tspan></text></g>
<g id="atss"><rect class="w" x="5022" y="731" width="98" height="49"/><text x="5071" y="745.2">anterograde<tspan x="5071" dy="14.8">trans-synaptic</tspan><tspan x="5071" dy="14.8">signaling</tspan></text></g>
<g id="ptrge"><rect class="w" x="5998" y="731" width="134" height="49"/><text x="6065" y="745.2">post-transcriptional<tspan x="6065" dy="14.8">regulation of</tspan><tspan x="6065" dy="14.8">gene expression</tspan></text></g>
<g id="trl"><rect class="cb" x="6208" y="731" width="75" height="49"/><text x="6245.5" y="760">translation</text></g>
<g id="crgs"><rect class="w" x="2610" y="830" width="118" height="48"/><text x="2669" y="843.7">cellular response<tspan x="2669" dy="14.8">to glucocorticoid</tspan><tspan x="2669" dy="14.8">stimulus</tspan></text></g>
<g id="rtd"><rect class="w" x="2752" y="830" width="111" height="48"/><text x="2807.5" y="851.1">response to<tspan x="2807.5" dy="14.8">dexamethasone</tspan></text></g>
<g id="nd"><rect class="cb" x="3542" y="830" width="147" height="48"/><text x="3615.5" y="858.5">neuron differentiation</text></g>
<g id="cst"><rect class="w" x="5009" y="830" width="124" height="48"/><text x="5071" y="851.1">chemical synaptic<tspan x="5071" dy="14.8">transmission</tspan></text></g>
<g id="rtrl"><rect class="lb" x="5966" y="830" width="89" height="48"/><text x="6010.5" y="851.1">regulation of<tspan x="6010.5" dy="14.8">translation</tspan></text></g>
<g id="ti"><rect class="lb" x="6130" y="830" width="88" height="48"/><text x="6174" y="851.1">translational<tspan x="6174" dy="14.8">initiation</tspan></text></g>
<g id="crds"><rect class="cb" x="2743" y="929" width="129" height="48"/><text x="2807.5" y="942.7">cellular response<tspan x="2807.5" dy="14.8">to dexamethasone</tspan><tspan x="2807.5" dy="14.8">stimulus</tspan></text></g>
<g id="rnd"><rect class="w" x="3653" y="929" width="147" height="48"/><text x="3726.5" y="950.1">regulation of<tspan x="3726.5" dy="14.8">neuron differentiation</tspan></text></g>
<g id="mcst"><rect class="w" x="5009" y="929" width="124" height="48"/><text x="5071" y="942.7">modulation of<tspan x="5071" dy="14.8">chemical synaptic</tspan><tspan x="5071" dy="14.8">transmission</tspan></text></g>
<g id="rtas"><rect class="w" x="5329" y="929" width="88" height="48"/><text x="5373" y="942.7">regulation of<tspan x="5373" dy="14.8">translation</tspan><tspan x="5373" dy="14.8">at synapse</tspan></text></g>
<g id="nrtrl"><rect class="cb" x="6255" y="929" width="133" height="48"/><text x="6321.5" y="950.1">negative regulation<tspan x="6321.5" dy="14.8">of translation</tspan></text></g>
<g id="nrnd"><rect class="cb" x="3645" y="1042" width="163" height="49"/><text x="3726.5" y="1063.6">negative regulation<tspan x="3726.5" dy="14.8">of neuron differentiation</tspan></text></g>
<g id="pmcst"><rect class="w" x="5009" y="1034" width="124" height="64"/><text x="5071" y="1048.8">postsynaptic<tspan x="5071" dy="14.8">modulation of</tspan><tspan x="5071" dy="14.8">chemical synaptic</tspan><tspan x="5071" dy="14.8">transmission</tspan></text></g>
<g id="rtasm"><rect class="w" x="5157" y="1026" width="139" height="80"/><text x="5226.5" y="1041.4">regulation of<tspan x="5226.5" dy="14.8">translation</tspan><tspan x="5226.5" dy="14.8">at synapse,</tspan><tspan x="5226.5" dy="14.8">modulating synaptic</tspan><tspan x="5226.5" dy="14.8">transmission</tspan></text></g>
<g id="rtap"><rect class="w" x="5321" y="1042" width="105" height="49"/><text x="5373.5" y="1056.2">regulation of<tspan x="5373.5" dy="14.8">translation</tspan><tspan x="5373.5" dy="14.8">at postsynapse</tspan></text></g>
<g id="rtapm"><rect class="cb" x="5157" y="1154" width="139" height="80"/><text x="5226.5" y="1169.4">regulation of<tspan x="5226.5" dy="14.8">translation</tspan><tspan x="5226.5" dy="14.8">at postsynapse,</tspan><tspan x="5226.5" dy="14.8">modulating synaptic</tspan><tspan x="5226.5" dy="14.8">transmission</tspan></text></g>
</svg>
